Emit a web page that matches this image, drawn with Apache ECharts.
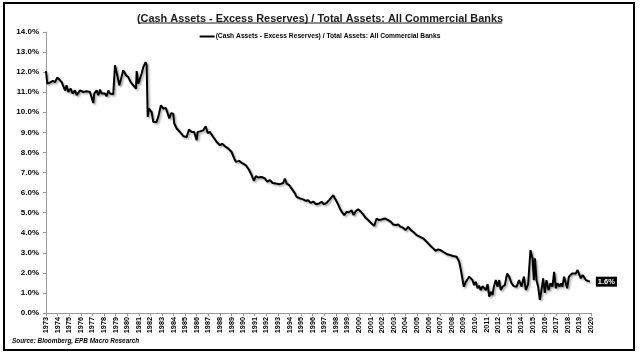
<!DOCTYPE html>
<html><head><meta charset="utf-8">
<script src="https://cdn.jsdelivr.net/npm/echarts@6/dist/echarts.min.js"></script>
<style>html,body{margin:0;padding:0;background:#fff}#c{width:640px;height:356px}</style>
</head><body><div id="c"></div>
<script>
const titleText = '(Cash Assets - Excess Reserves) / Total Assets: All Commercial Banks';
const seriesName = '(Cash Assets - Excess Reserves) / Total Assets: All Commercial Banks';
const sourceText = 'Source: Bloomberg, EPB Macro Research';
const lastLabel = '1.6%';
const yTicks = [0,1,2,3,4,5,6,7,8,9,10,11,12,13,14];
const years = [1973,1974,1975,1976,1977,1978,1979,1980,1981,1982,1983,1984,1985,1986,1987,1988,1989,1990,1991,1992,1993,1994,1995,1996,1997,1998,1999,2000,2001,2002,2003,2004,2005,2006,2007,2008,2009,2010,2011,2012,2013,2014,2015,2016,2017,2018,2019,2020];
// time (fractional year) and ratio (%)
const t = [1973.00,1973.11,1973.34,1973.58,1973.78,1973.97,1974.15,1974.35,1974.49,1974.64,1974.78,1974.92,1975.13,1975.30,1975.50,1975.65,1975.93,1976.22,1976.51,1976.79,1977.08,1977.16,1977.37,1977.51,1977.66,1977.80,1977.94,1978.09,1978.23,1978.37,1978.52,1978.66,1978.80,1978.95,1979.15,1979.32,1979.44,1979.66,1979.90,1980.09,1980.30,1980.53,1980.76,1980.82,1980.96,1981.25,1981.39,1981.59,1981.68,1981.77,1981.88,1982.11,1982.25,1982.54,1982.68,1982.91,1983.11,1983.32,1983.46,1983.63,1983.78,1983.97,1984.06,1984.27,1984.55,1984.84,1985.13,1985.33,1985.56,1985.78,1985.99,1986.08,1986.28,1986.56,1986.77,1986.94,1987.14,1987.42,1987.72,1988.00,1988.20,1988.43,1988.72,1989.01,1989.23,1989.38,1989.66,1989.96,1990.24,1990.53,1990.73,1990.93,1991.10,1991.30,1991.59,1991.88,1992.08,1992.31,1992.54,1992.83,1993.17,1993.46,1993.60,1993.75,1993.97,1994.18,1994.47,1994.61,1994.90,1995.18,1995.41,1995.61,1995.82,1996.04,1996.28,1996.56,1996.77,1996.97,1997.20,1997.42,1997.57,1997.77,1997.97,1998.15,1998.34,1998.54,1998.72,1998.92,1999.12,1999.35,1999.53,1999.70,1999.92,2000.16,2000.35,2000.56,2000.78,2001.08,2001.30,2001.51,2001.71,2001.94,2002.22,2002.51,2002.74,2002.94,2003.15,2003.37,2003.60,2003.80,2004.01,2004.23,2004.47,2004.66,2004.96,2005.24,2005.53,2005.82,2006.10,2006.39,2006.59,2006.82,2007.03,2007.25,2007.54,2007.83,2008.11,2008.41,2008.63,2008.75,2008.89,2009.03,2009.21,2009.35,2009.49,2009.64,2009.78,2009.92,2010.07,2010.22,2010.35,2010.50,2010.65,2010.78,2010.93,2011.08,2011.22,2011.36,2011.51,2011.62,2011.79,2011.94,2012.08,2012.22,2012.37,2012.57,2012.77,2012.94,2013.15,2013.34,2013.58,2013.80,2014.01,2014.21,2014.38,2014.58,2014.78,2014.96,2015.07,2015.16,2015.30,2015.44,2015.59,2015.73,2015.87,2016.02,2016.16,2016.34,2016.51,2016.68,2016.82,2016.97,2017.11,2017.28,2017.40,2017.53,2017.68,2017.83,2017.94,2018.09,2018.23,2018.37,2018.52,2018.69,2018.84,2018.97,2019.12,2019.28,2019.41,2019.55,2019.70,2019.90];
const ratio = [12.05,11.43,11.48,11.56,11.50,11.73,11.63,11.50,11.59,11.09,11.34,11.01,11.18,10.93,11.09,10.85,11.09,11.01,11.05,11.01,10.46,10.93,11.09,10.85,11.13,10.93,11.01,10.93,10.80,11.09,10.93,10.95,10.90,12.34,11.84,11.34,11.59,12.09,11.84,11.76,11.50,11.34,11.18,12.05,11.43,11.93,12.25,12.50,12.34,9.77,10.18,10.01,9.52,9.52,9.77,10.35,10.18,10.22,10.01,9.69,9.95,9.93,9.44,9.19,9.02,8.81,8.77,9.14,9.02,9.02,8.61,9.02,9.05,9.10,9.30,8.97,9.02,8.77,8.52,8.36,8.44,8.31,8.19,8.02,7.70,7.53,7.58,7.45,7.36,7.11,6.87,6.58,6.82,6.75,6.78,6.70,6.55,6.62,6.48,6.45,6.42,6.48,6.70,6.45,6.37,6.20,5.96,5.79,5.71,5.66,5.59,5.62,5.49,5.55,5.42,5.46,5.54,5.42,5.49,5.62,5.65,5.87,5.65,5.46,5.21,5.01,4.88,5.04,5.02,5.12,4.88,5.07,5.17,5.04,4.91,4.74,4.63,4.46,4.34,4.71,4.63,4.66,4.71,4.63,4.54,4.41,4.38,4.41,4.29,4.25,4.13,4.29,4.13,4.05,3.88,3.80,3.72,3.55,3.38,3.22,3.10,3.17,3.13,3.05,2.94,2.89,2.84,2.80,2.55,2.22,1.78,1.31,1.56,1.64,1.81,1.89,1.64,1.39,1.56,1.23,1.36,1.14,1.34,1.39,1.14,1.44,0.81,1.06,0.90,1.31,1.64,1.31,1.64,1.14,1.31,1.39,1.97,1.81,1.48,1.34,1.31,1.64,1.31,1.81,1.14,1.44,3.13,2.72,1.64,2.72,1.64,1.31,0.65,1.14,1.73,1.00,1.64,1.14,1.48,1.31,2.05,1.23,1.48,1.31,1.48,1.31,1.81,1.48,1.23,1.81,1.73,1.97,1.89,1.97,2.14,2.10,1.73,1.89,1.78,1.64,1.73,1.56];

const F = '"Liberation Sans",Arial,sans-serif';
const chart = echarts.init(document.getElementById('c'), null, {renderer:'canvas'});
chart.setOption({
  animation:false,
  backgroundColor:'#fff',
  title:{text:titleText,left:'center',top:8,textStyle:{fontFamily:F,fontSize:10.9,fontWeight:'bold',color:'#1a1a1a'}},
  legend:{top:28,left:'center',itemWidth:15,itemHeight:2,icon:'rect',itemGap:4,
    textStyle:{fontFamily:F,fontSize:6.7,fontWeight:'bold',color:'#000',padding:[0,0,0,-4]},
    data:[{name:seriesName,itemStyle:{color:'#000'}}]},
  grid:{left:46,right:49,top:32,bottom:43,containLabel:false},
  xAxis:{type:'value',min:years[0],max:years[years.length-1],interval:1,
    axisLine:{lineStyle:{color:'#999',width:1}},
    axisTick:{length:3,lineStyle:{color:'#999'}},
    splitLine:{show:false},
    axisLabel:{rotate:90,margin:4,fontFamily:F,fontSize:7.3,fontWeight:'bold',color:'#000',formatter:v=>String(v)}},
  yAxis:{type:'value',min:yTicks[0],max:yTicks[yTicks.length-1],interval:1,
    axisLine:{show:true,lineStyle:{color:'#999',width:1}},
    axisTick:{show:true,length:3,lineStyle:{color:'#999'}},
    splitLine:{show:false},
    axisLabel:{margin:7,fontFamily:F,fontSize:8,fontWeight:'bold',color:'#000',formatter:v=>v.toFixed(1)+'%'}},
  series:[{name:seriesName,type:'line',showSymbol:false,symbol:'none',
    data:t.map((x,i)=>[x,ratio[i]]),
    lineStyle:{color:'#000',width:2,shadowColor:'rgba(0,0,0,0.35)',shadowBlur:2,shadowOffsetX:1.5,shadowOffsetY:1.5},
    itemStyle:{color:'#000'},
    endLabel:{show:true,formatter:()=>lastLabel,distance:6,backgroundColor:'#000',color:'#fff',
      fontFamily:F,fontSize:7.5,fontWeight:'bold',padding:[1,2,1,2]}}],
  graphic:[
    {type:'rect',shape:{x:4,y:3,width:630,height:347},style:{fill:'none',stroke:'#000',lineWidth:2},silent:true},
    {type:'line',shape:{x1:138,y1:23,x2:502,y2:23},style:{stroke:'#1a1a1a',lineWidth:1}},
    {type:'text',left:12,top:338,style:{text:sourceText,fontFamily:F,fontSize:6.4,fontWeight:'bold',fontStyle:'italic',fill:'#000'}}
  ]
});
</script></body></html>
